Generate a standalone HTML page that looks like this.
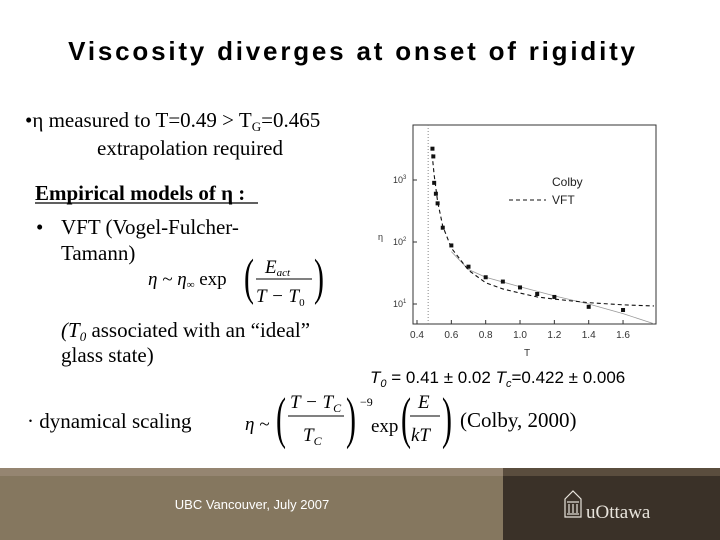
<!DOCTYPE html>
<html><head><meta charset="utf-8">
<style>
html,body{margin:0;padding:0;background:#fff;}
#root{position:relative;width:720px;height:540px;overflow:hidden;}
svg{position:absolute;left:0;top:0;}
.s{font-family:"Liberation Serif",serif;}
.a{font-family:"Liberation Sans",sans-serif;}
</style></head>
<body>
<div id="root">
<svg width="720" height="540" viewBox="0 0 720 540">
  <text x="353" y="60" text-anchor="middle" class="a" font-size="26" font-weight="bold" letter-spacing="2.8" fill="#000">Viscosity diverges at onset of rigidity</text>

  <g class="s" font-size="21" fill="#000">
    <text x="25" y="127">•η measured to T=0.49 &gt; T<tspan font-size="13" dy="4">G</tspan><tspan dy="-4">=0.465</tspan></text>
    <text x="97" y="155">extrapolation required</text>
  </g>
  <text x="35" y="200" class="s" font-size="21" font-weight="bold">Empirical models of η :</text>
  <line x1="35" y1="203" x2="258" y2="203" stroke="#000" stroke-width="1.3"/>
  <g class="s" font-size="21">
    <text x="36" y="234">•</text>
    <text x="61" y="234">VFT (Vogel-Fulcher-</text>
    <text x="61" y="260">Tamann)</text>
  </g>
  <g class="s" font-style="italic">
    <text x="148" y="285" font-size="19">η ~ η<tspan font-size="11" dy="3">∞</tspan><tspan dy="-3" font-style="normal"> exp</tspan></text>
    <text x="0" y="0" font-size="30" font-style="normal" transform="translate(244,294) scale(1,1.7)">(</text>
    <text x="265" y="273" font-size="19">E<tspan font-size="11" dy="3">act</tspan></text>
    <line x1="256" y1="279" x2="312" y2="279" stroke="#000" stroke-width="1"/>
    <text x="256" y="302" font-size="19">T − T<tspan font-size="11" dy="4" font-style="normal">0</tspan></text>
    <text x="0" y="0" font-size="30" font-style="normal" transform="translate(314,294) scale(1,1.7)">)</text>
  </g>
  <g class="s" font-size="21">
    <text x="61" y="337"><tspan font-style="italic">(T<tspan font-size="13" dy="4">0</tspan></tspan><tspan dy="-4"> associated with an “ideal”</tspan></text>
    <text x="61" y="362">glass state)</text>
  </g>
  <text x="27" y="428" class="s" font-size="21">· dynamical scaling</text>
  <g class="s" font-style="italic" font-size="19">
    <text x="245" y="430">η ~</text>
    <text x="0" y="0" font-size="30" font-style="normal" transform="translate(276,437) scale(1,1.9)">(</text>
    <text x="290" y="408">T − T<tspan font-size="12" dy="4">C</tspan></text>
    <line x1="288" y1="416" x2="344" y2="416" stroke="#000" stroke-width="1"/>
    <text x="303" y="441">T<tspan font-size="12" dy="4">C</tspan></text>
    <text x="0" y="0" font-size="30" font-style="normal" transform="translate(346,437) scale(1,1.9)">)</text>
    <text x="360" y="406" font-size="12" font-style="normal">−9</text>
    <text x="371" y="432" font-style="normal">exp</text>
    <text x="0" y="0" font-size="30" font-style="normal" transform="translate(401,437) scale(1,1.9)">(</text>
    <text x="418" y="408">E</text>
    <line x1="410" y1="416" x2="440" y2="416" stroke="#000" stroke-width="1"/>
    <text x="411" y="441">kT</text>
    <text x="0" y="0" font-size="30" font-style="normal" transform="translate(442,437) scale(1,1.9)">)</text>
  </g>
  <text x="370" y="383" class="a" font-size="17"><tspan font-style="italic">T<tspan font-size="11" dy="4">0</tspan></tspan><tspan dy="-4"> = 0.41 ± 0.02  </tspan><tspan font-style="italic">T<tspan font-size="11" dy="4">c</tspan></tspan><tspan dy="-4">=0.422 ± 0.006</tspan></text>
  <text x="460" y="427" class="s" font-size="21">(Colby, 2000)</text>

  <g id="chart"></g>

  <rect x="0" y="468" width="503" height="72" fill="#85775f"/>
  <rect x="0" y="468" width="503" height="8" fill="#958571"/>
  <rect x="503" y="468" width="217" height="72" fill="#3a3128"/>
  <rect x="503" y="468" width="217" height="8" fill="#5a4d3e"/>
  <text x="252" y="509" text-anchor="middle" class="a" font-size="13" fill="#fff">UBC Vancouver, July 2007</text>
  <g fill="none" stroke="#e8e4dc" stroke-width="1.2">
    <path d="M565 499 L573 491 L581 499 L581 517 L565 517 Z"/>
    <line x1="567" y1="502" x2="579" y2="502"/>
    <line x1="569" y1="504" x2="569" y2="513"/><line x1="573" y1="504" x2="573" y2="513"/><line x1="577" y1="504" x2="577" y2="513"/>
    <line x1="567" y1="514" x2="579" y2="514"/>
  </g>
  <text x="586" y="518" class="s" font-size="19" fill="#e8e4dc">uOttawa</text>
</svg>
</div>
<script>
const tValues = [0.49,0.495,0.50,0.51,0.52,0.55,0.60,0.70,0.80,0.90,1.00,1.10,1.20,1.40,1.60];
const etaValues = [3200,2400,900,600,420,170,88,40,27,23,18.5,14.5,13,9,8];
const vftT = [0.488,0.50,0.52,0.55,0.60,0.70,0.80,0.90,1.00,1.10,1.20,1.40,1.60,1.78];
const vftEta = [2600,1200,450,180,80,35,22,17.5,15,13,12,10.5,9.7,9.3];
const fitT = [0.60,0.70,0.80,1.00,1.20,1.40,1.60,1.78];
const fitEta = [70,36,27,19,13.5,10,7,4.8];
const xTicks = [0.4,0.6,0.8,1.0,1.2,1.4,1.6];
const xTickLabels = ["0.4","0.6","0.8","1.0","1.2","1.4","1.6"];
const yTicks = [1,2,3];
const tgLine = 0.465;

const NS="http://www.w3.org/2000/svg";
const g=document.getElementById('chart');
const L=413,R=656,T=125,B=324;
const xs=v=>417+(v-0.4)*171.7;
const ys=v=>304-(Math.log10(v)-1)*62;
function mk(tag,at){const e=document.createElementNS(NS,tag);for(const k in at)e.setAttribute(k,at[k]);g.appendChild(e);return e;}
let fr=mk('rect',{x:L,y:T,width:R-L,height:B-T,fill:'none',stroke:'#333','stroke-width':1});


xTicks.forEach((v,i)=>{
  let t=mk('line',{x1:xs(v),x2:xs(v),y1:B,y2:B-4,stroke:'#333'});
  
  
  let l=mk('text',{x:xs(v),y:B+14,'text-anchor':'middle','font-size':10,'font-family':'Liberation Sans,sans-serif',fill:'#333'});
  l.textContent=xTickLabels[i];
  
  
});
yTicks.forEach(p=>{
  let t=mk('line',{x1:L,x2:L+4,y1:ys(Math.pow(10,p)),y2:ys(Math.pow(10,p)),stroke:'#333'});
  
  
  let l=mk('text',{x:L-20,y:ys(Math.pow(10,p))+3,'font-size':9,'font-family':'Liberation Sans,sans-serif',fill:'#333'});
  l.innerHTML='10<tspan font-size="6" dy="-4">'+p+'</tspan>';
  
  
});
let tg=mk('line',{x1:xs(tgLine),x2:xs(tgLine),y1:T,y2:B,stroke:'#888','stroke-dasharray':'1,2'});


let fit=mk('polyline',{points:fitT.map((v,i)=>xs(v)+','+ys(fitEta[i])).join(' '),fill:'none',stroke:'#999','stroke-width':0.8});


let vft=mk('polyline',{points:vftT.map((v,i)=>xs(v)+','+ys(vftEta[i])).join(' '),fill:'none',stroke:'#111','stroke-width':1.1,'stroke-dasharray':'4,3'});


tValues.forEach((v,i)=>{
  let p=mk('rect',{x:xs(v)-2,y:ys(etaValues[i])-2,width:4,height:4,fill:'#111'});
  
  
});
let lg1=mk('text',{x:552,y:186,'font-size':12,'font-family':'Liberation Sans,sans-serif',fill:'#222'});
lg1.textContent='Colby';


let lgl=mk('line',{x1:509,x2:546,y1:200,y2:200,stroke:'#111','stroke-dasharray':'4,3'});


let lg2=mk('text',{x:552,y:204,'font-size':12,'font-family':'Liberation Sans,sans-serif',fill:'#222'});
lg2.textContent='VFT';


let yt=mk('text',{x:378,y:240,'font-size':9,'font-family':'Liberation Sans,sans-serif',fill:'#333'});
yt.textContent='η';


let xt=mk('text',{x:527,y:356,'font-size':10,'font-family':'Liberation Sans,sans-serif',fill:'#333','text-anchor':'middle'});
xt.textContent='T';


</script>
</body></html>
